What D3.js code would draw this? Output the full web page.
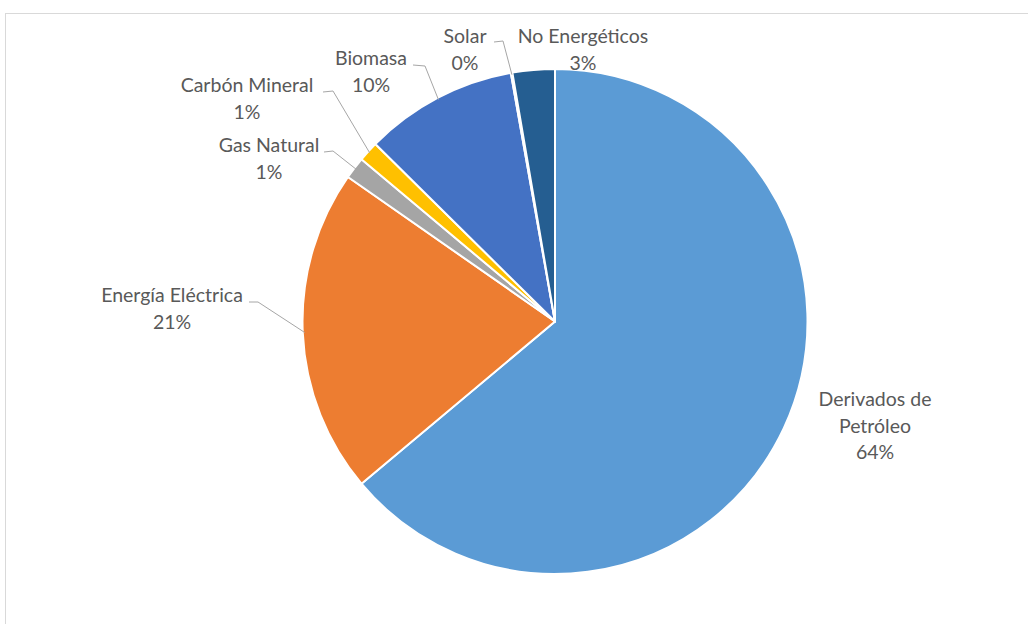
<!DOCTYPE html>
<html>
<head>
<meta charset="utf-8">
<script src="https://cdn.jsdelivr.net/npm/d3@7"></script>
<style>
html,body{margin:0;padding:0;background:#fff;}
svg{display:block;}
</style>
</head>
<body>
<svg id="chart" width="1028" height="624"></svg>
<script>
const categories = ["Derivados de Petróleo","Energía Eléctrica","Gas Natural","Carbón Mineral","Biomasa","Solar","No Energéticos"];
const values = [63.9, 20.8, 1.4, 1.3, 9.8, 0.1, 2.7];
const pctLabels = ["64%","21%","1%","1%","10%","0%","3%"];
const labelLines = [["Derivados de","Petróleo"],["Energía Eléctrica"],["Gas Natural"],["Carbón Mineral"],["Biomasa"],["Solar"],["No Energéticos"]];
const colors = ["#5B9BD5","#ED7D31","#A5A5A5","#FFC000","#4472C4","#70AD47","#255E91"];

// layout (label anchor positions: center x, first baseline y)
const labelPos = [[875,406],[172,302],[269,152],[247,92],[371,65],[465,43],[583,43]];
const leaderEnds = [null,[258,302],[333,151],[333,91],[425,66],[503,41],null];
const leaderStarts = [null,[249,302],[324,152],[323,92],[413,65],[494,42],null];

const svg = d3.select("#chart");
const cx = 555, cy = 321.5, r = 252.5;

svg.append("rect").attr("x",5.5).attr("y",13.5).attr("width",1040).attr("height",640)
  .attr("fill","#fff").attr("stroke","#D9D9D9").attr("stroke-width",1);

const pie = d3.pie().sort(null).value(d=>d)(values);
const arc = d3.arc().innerRadius(0).outerRadius(r);
const g = svg.append("g").attr("transform",`translate(${cx},${cy})`);
g.selectAll("path").data(pie).join("path")
  .attr("d",arc)
  .attr("fill",(d,i)=>colors[i])
  .attr("stroke","#fff").attr("stroke-width",2).attr("stroke-linejoin","round");

// leader lines: from label to slice edge at mid-angle
const lineArc = d3.arc().innerRadius(r-2).outerRadius(r-2);
pie.forEach((d,i)=>{
  if(!leaderEnds[i]) return;
  const a = (d.startAngle+d.endAngle)/2;
  const px = cx + Math.sin(a)*(r-2), py = cy - Math.cos(a)*(r-2);
  svg.append("polyline")
    .attr("points",[leaderStarts[i],leaderEnds[i],[px,py]].map(p=>p.join(",")).join(" "))
    .attr("fill","none").attr("stroke","#A6A6A6").attr("stroke-width",1);
});

const lh = 26.5;
categories.forEach((c,i)=>{
  const t = svg.append("text")
    .attr("x",labelPos[i][0]).attr("y",labelPos[i][1])
    .attr("text-anchor","middle")
    .attr("font-family","Lato, 'Open Sans', sans-serif")
    .attr("font-size",19.5).attr("fill","#595959");
  const lines = labelLines[i].concat([pctLabels[i]]);
  lines.forEach((l,j)=>{
    t.append("tspan").attr("x",labelPos[i][0]).attr("dy", j===0?0:lh).text(l);
  });
});
</script>
</body>
</html>
